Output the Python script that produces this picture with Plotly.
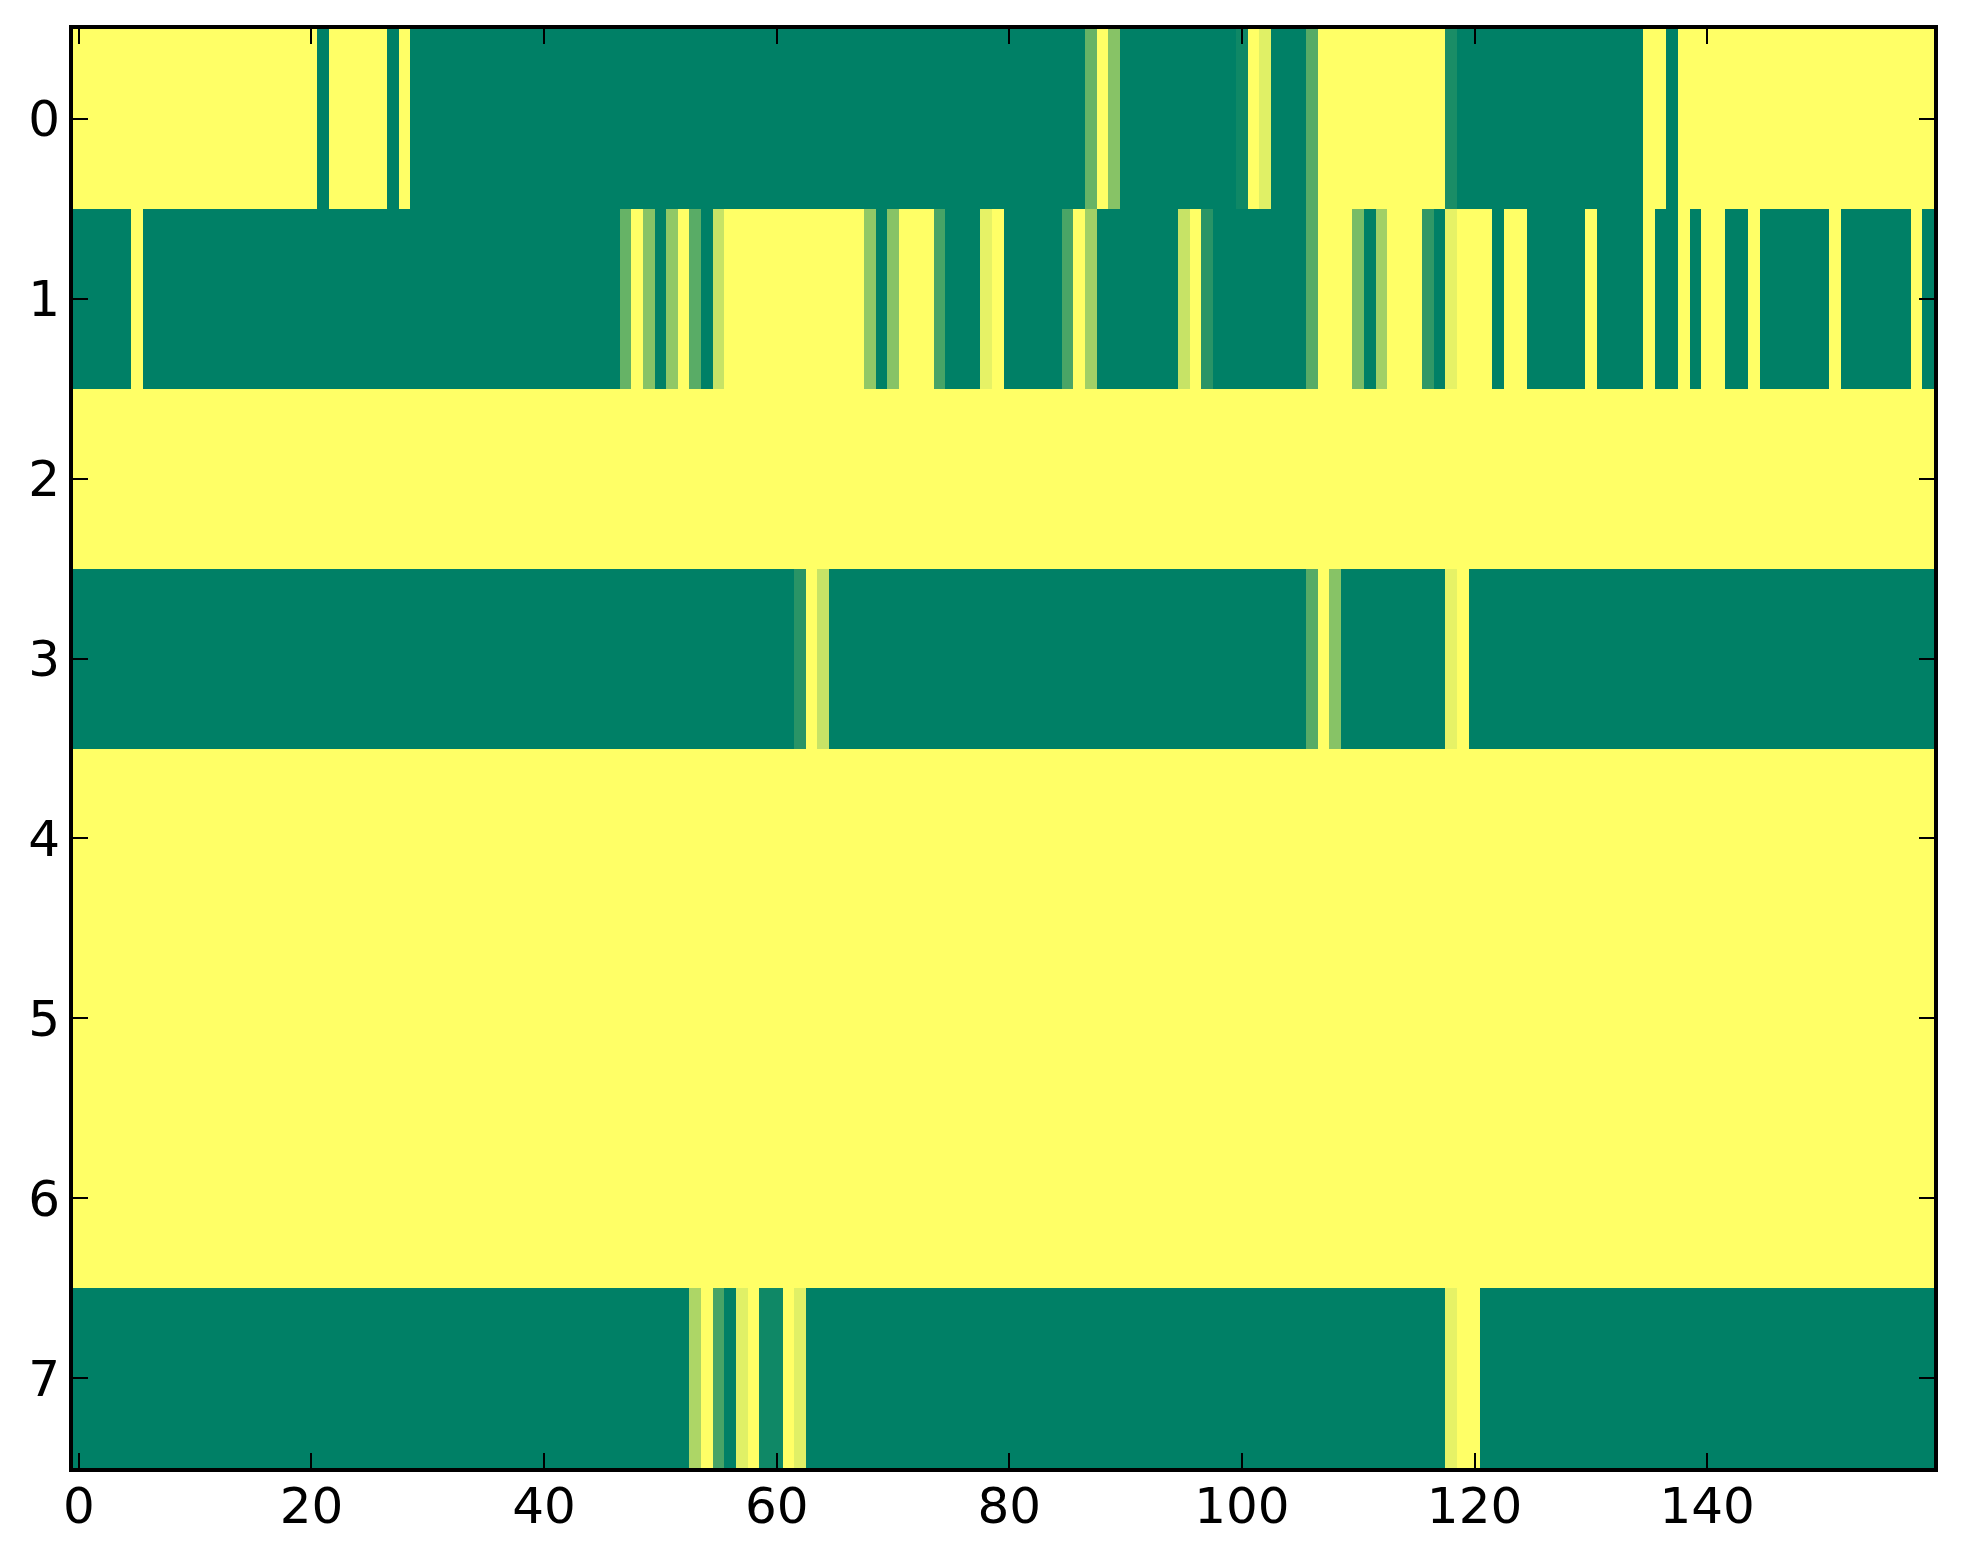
import plotly.graph_objects as go

# Column indices (x) and row indices (y)
columns = list(range(160))
rows = [0, 1, 2, 3, 4, 5, 6, 7]

row0 = [1, 1, 1, 1, 1, 1, 1, 1, 1, 1, 1, 1, 1, 1, 1, 1, 1, 1, 1, 1,
        1, 0, 1, 1, 1, 1, 1, 0, 1, 0, 0, 0, 0, 0, 0, 0, 0, 0, 0, 0,
        0, 0, 0, 0, 0, 0, 0, 0, 0, 0, 0, 0, 0, 0, 0, 0, 0, 0, 0, 0,
        0, 0, 0, 0, 0, 0, 0, 0, 0, 0, 0, 0, 0, 0, 0, 0, 0, 0, 0, 0,
        0, 0, 0, 0, 0, 0, 0, 0.4, 1, 0.53, 0, 0, 0, 0, 0, 0, 0, 0, 0, 0,
        0.06, 1, 0.88, 0, 0, 0, 0.34, 1, 1, 1, 1, 1, 1, 1, 1, 1, 1, 1, 0.1, 0,
        0, 0, 0, 0, 0, 0, 0, 0, 0, 0, 0, 0, 0, 0, 0, 1, 1, 0, 1, 1,
        1, 1, 1, 1, 1, 1, 1, 1, 1, 1, 1, 1, 1, 1, 1, 1, 1, 1, 1, 1]

row1 = [0, 0, 0, 0, 0, 1, 0, 0, 0, 0, 0, 0, 0, 0, 0, 0, 0, 0, 0, 0,
        0, 0, 0, 0, 0, 0, 0, 0, 0, 0, 0, 0, 0, 0, 0, 0, 0, 0, 0, 0,
        0, 0, 0, 0, 0, 0, 0, 0.4, 1, 0.53, 0, 0.57, 1, 0.35, 0, 0.78, 1, 1, 1, 1,
        1, 1, 1, 1, 1, 1, 1, 1, 0.57, 0, 0.53, 1, 1, 1, 0.28, 0, 0, 0, 0.9, 1,
        0, 0, 0, 0, 0, 0.29, 1, 0.63, 0, 0, 0, 0, 0, 0, 0, 0.78, 1, 0.16, 0, 0,
        0, 0, 0, 0, 0, 0, 0.34, 1, 1, 1, 0.47, 0, 0.63, 1, 1, 1, 0.19, 0, 0.9, 1,
        1, 1, 0, 1, 1, 0, 0, 0, 0, 0, 1, 0, 0, 0, 0, 1, 0, 0, 1, 0,
        1, 1, 0, 0, 1, 0, 0, 0, 0, 0, 0, 1, 0, 0, 0, 0, 0, 0, 1, 0]

row2 = [1, 1, 1, 1, 1, 1, 1, 1, 1, 1, 1, 1, 1, 1, 1, 1, 1, 1, 1, 1,
        1, 1, 1, 1, 1, 1, 1, 1, 1, 1, 1, 1, 1, 1, 1, 1, 1, 1, 1, 1,
        1, 1, 1, 1, 1, 1, 1, 1, 1, 1, 1, 1, 1, 1, 1, 1, 1, 1, 1, 1,
        1, 1, 1, 1, 1, 1, 1, 1, 1, 1, 1, 1, 1, 1, 1, 1, 1, 1, 1, 1,
        1, 1, 1, 1, 1, 1, 1, 1, 1, 1, 1, 1, 1, 1, 1, 1, 1, 1, 1, 1,
        1, 1, 1, 1, 1, 1, 1, 1, 1, 1, 1, 1, 1, 1, 1, 1, 1, 1, 1, 1,
        1, 1, 1, 1, 1, 1, 1, 1, 1, 1, 1, 1, 1, 1, 1, 1, 1, 1, 1, 1,
        1, 1, 1, 1, 1, 1, 1, 1, 1, 1, 1, 1, 1, 1, 1, 1, 1, 1, 1, 1]

row3 = [0, 0, 0, 0, 0, 0, 0, 0, 0, 0, 0, 0, 0, 0, 0, 0, 0, 0, 0, 0,
        0, 0, 0, 0, 0, 0, 0, 0, 0, 0, 0, 0, 0, 0, 0, 0, 0, 0, 0, 0,
        0, 0, 0, 0, 0, 0, 0, 0, 0, 0, 0, 0, 0, 0, 0, 0, 0, 0, 0, 0,
        0, 0, 0.16, 1, 0.78, 0, 0, 0, 0, 0, 0, 0, 0, 0, 0, 0, 0, 0, 0, 0,
        0, 0, 0, 0, 0, 0, 0, 0, 0, 0, 0, 0, 0, 0, 0, 0, 0, 0, 0, 0,
        0, 0, 0, 0, 0, 0, 0.34, 1, 0.53, 0, 0, 0, 0, 0, 0, 0, 0, 0, 0.9, 1,
        0, 0, 0, 0, 0, 0, 0, 0, 0, 0, 0, 0, 0, 0, 0, 0, 0, 0, 0, 0,
        0, 0, 0, 0, 0, 0, 0, 0, 0, 0, 0, 0, 0, 0, 0, 0, 0, 0, 0, 0]

row4 = [1, 1, 1, 1, 1, 1, 1, 1, 1, 1, 1, 1, 1, 1, 1, 1, 1, 1, 1, 1,
        1, 1, 1, 1, 1, 1, 1, 1, 1, 1, 1, 1, 1, 1, 1, 1, 1, 1, 1, 1,
        1, 1, 1, 1, 1, 1, 1, 1, 1, 1, 1, 1, 1, 1, 1, 1, 1, 1, 1, 1,
        1, 1, 1, 1, 1, 1, 1, 1, 1, 1, 1, 1, 1, 1, 1, 1, 1, 1, 1, 1,
        1, 1, 1, 1, 1, 1, 1, 1, 1, 1, 1, 1, 1, 1, 1, 1, 1, 1, 1, 1,
        1, 1, 1, 1, 1, 1, 1, 1, 1, 1, 1, 1, 1, 1, 1, 1, 1, 1, 1, 1,
        1, 1, 1, 1, 1, 1, 1, 1, 1, 1, 1, 1, 1, 1, 1, 1, 1, 1, 1, 1,
        1, 1, 1, 1, 1, 1, 1, 1, 1, 1, 1, 1, 1, 1, 1, 1, 1, 1, 1, 1]

row5 = [1, 1, 1, 1, 1, 1, 1, 1, 1, 1, 1, 1, 1, 1, 1, 1, 1, 1, 1, 1,
        1, 1, 1, 1, 1, 1, 1, 1, 1, 1, 1, 1, 1, 1, 1, 1, 1, 1, 1, 1,
        1, 1, 1, 1, 1, 1, 1, 1, 1, 1, 1, 1, 1, 1, 1, 1, 1, 1, 1, 1,
        1, 1, 1, 1, 1, 1, 1, 1, 1, 1, 1, 1, 1, 1, 1, 1, 1, 1, 1, 1,
        1, 1, 1, 1, 1, 1, 1, 1, 1, 1, 1, 1, 1, 1, 1, 1, 1, 1, 1, 1,
        1, 1, 1, 1, 1, 1, 1, 1, 1, 1, 1, 1, 1, 1, 1, 1, 1, 1, 1, 1,
        1, 1, 1, 1, 1, 1, 1, 1, 1, 1, 1, 1, 1, 1, 1, 1, 1, 1, 1, 1,
        1, 1, 1, 1, 1, 1, 1, 1, 1, 1, 1, 1, 1, 1, 1, 1, 1, 1, 1, 1]

row6 = [1, 1, 1, 1, 1, 1, 1, 1, 1, 1, 1, 1, 1, 1, 1, 1, 1, 1, 1, 1,
        1, 1, 1, 1, 1, 1, 1, 1, 1, 1, 1, 1, 1, 1, 1, 1, 1, 1, 1, 1,
        1, 1, 1, 1, 1, 1, 1, 1, 1, 1, 1, 1, 1, 1, 1, 1, 1, 1, 1, 1,
        1, 1, 1, 1, 1, 1, 1, 1, 1, 1, 1, 1, 1, 1, 1, 1, 1, 1, 1, 1,
        1, 1, 1, 1, 1, 1, 1, 1, 1, 1, 1, 1, 1, 1, 1, 1, 1, 1, 1, 1,
        1, 1, 1, 1, 1, 1, 1, 1, 1, 1, 1, 1, 1, 1, 1, 1, 1, 1, 1, 1,
        1, 1, 1, 1, 1, 1, 1, 1, 1, 1, 1, 1, 1, 1, 1, 1, 1, 1, 1, 1,
        1, 1, 1, 1, 1, 1, 1, 1, 1, 1, 1, 1, 1, 1, 1, 1, 1, 1, 1, 1]

row7 = [0, 0, 0, 0, 0, 0, 0, 0, 0, 0, 0, 0, 0, 0, 0, 0, 0, 0, 0, 0,
        0, 0, 0, 0, 0, 0, 0, 0, 0, 0, 0, 0, 0, 0, 0, 0, 0, 0, 0, 0,
        0, 0, 0, 0, 0, 0, 0, 0, 0, 0, 0, 0, 0, 0.68, 1, 0.28, 0, 0.88, 1, 0.06,
        0.06, 1, 0.88, 0, 0, 0, 0, 0, 0, 0, 0, 0, 0, 0, 0, 0, 0, 0, 0, 0,
        0, 0, 0, 0, 0, 0, 0, 0, 0, 0, 0, 0, 0, 0, 0, 0, 0, 0, 0, 0,
        0, 0, 0, 0, 0, 0, 0, 0, 0, 0, 0, 0, 0, 0, 0, 0, 0, 0, 0.9, 1,
        1, 0, 0, 0, 0, 0, 0, 0, 0, 0, 0, 0, 0, 0, 0, 0, 0, 0, 0, 0,
        0, 0, 0, 0, 0, 0, 0, 0, 0, 0, 0, 0, 0, 0, 0, 0, 0, 0, 0, 0]

x_ticks = [0, 20, 40, 60, 80, 100, 120, 140]
x_labels = ["0", "20", "40", "60", "80", "100", "120", "140"]
y_ticks = [0, 1, 2, 3, 4, 5, 6, 7]
y_labels = ["0", "1", "2", "3", "4", "5", "6", "7"]

z = [row0, row1, row2, row3, row4, row5, row6, row7]

# matplotlib "summer" colormap
summer = [[0.0, "rgb(0,128,102)"], [1.0, "rgb(255,255,102)"]]

fig = go.Figure(go.Heatmap(
    z=z, x=columns, y=rows,
    colorscale=summer, zmin=0, zmax=1,
    showscale=False, hoverinfo="skip",
))

font = dict(family="DejaVu Sans", size=50, color="black")
axis_common = dict(
    showgrid=False, zeroline=False,
    showline=True, linecolor="black", linewidth=4, mirror="ticks",
    ticks="inside", ticklen=15, tickwidth=2, tickcolor="black",
    tickfont=font,
)

fig.update_layout(
    width=1947, height=1548,
    margin=dict(l=65, r=21, t=21, b=88),
    paper_bgcolor="white", plot_bgcolor="white",
    xaxis=dict(range=[-0.5, 159.5], tickvals=x_ticks, ticktext=x_labels,
               ticklabelstandoff=-9, **axis_common),
    yaxis=dict(range=[7.5, -0.5], tickvals=y_ticks, ticktext=y_labels,
               ticklabelstandoff=-1, **axis_common),
)

fig.write_html("out.html")
